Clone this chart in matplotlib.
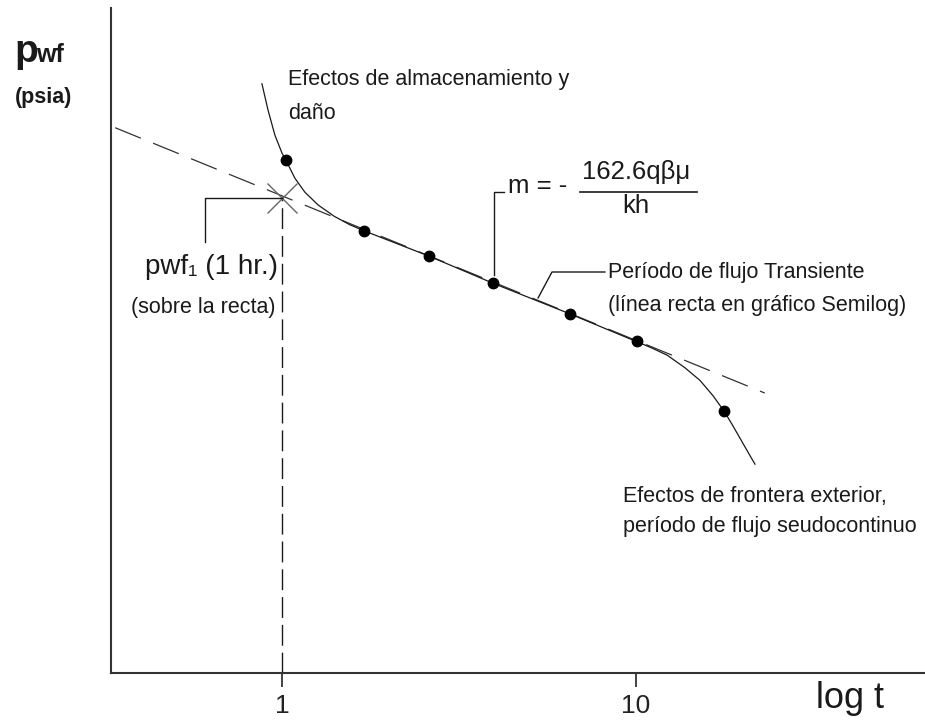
import matplotlib
matplotlib.use("Agg")
import matplotlib.pyplot as plt

plt.rcParams['font.family'] = ['Liberation Sans', 'DejaVu Sans']
plt.rcParams['lines.scale_dashes'] = False

# Measured points of the drawdown test (time in hr, pwf in psia, schematic)
t_points = [1.03, 1.71, 2.60, 3.95, 6.51, 10.07, 17.7]
p_points = [77.1, 66.5, 62.7, 58.6, 54.0, 49.9, 39.4]

t_curve = [0.878, 0.913, 0.955, 1.0, 1.033, 1.088, 1.161, 1.264, 1.403, 1.556, 1.705,
           2.60, 3.95, 6.51, 10.07, 10.95, 12.24, 13.75, 15.16, 16.50, 17.72,
           18.67, 19.67, 20.72, 21.68]
p_curve = [88.6, 84.7, 80.9, 78.2, 76.8, 74.4, 72.3, 70.4, 68.7, 67.4, 66.5,
           62.7, 58.6, 54.0, 49.8, 49.0, 47.8, 45.9, 44.0, 41.7, 39.4,
           37.4, 35.3, 33.2, 31.4]

# Semilog straight line (transient period), ends of the dashed extension
t_line = [0.338, 23.1]
p_line = [82.0, 42.1]

# pwf at 1 hr on the straight line
t_1hr = 1.0
p_1hr = 71.4

tick_vals = [1, 10]
tick_labels = ['1', '10']

fig = plt.figure(figsize=(9.25, 7.22), dpi=100)
ax = fig.add_axes([0.12, 0.0679, 0.88, 0.921])
ax.set_xscale('log')
ax.set_xlim(0.329, 65.5)
ax.set_ylim(0, 100)

ink = '#1a1a1a'

# dashed straight line
ax.plot(t_line, p_line, color='#333333', lw=0.9, dashes=(20, 9.5))
# response curve and points
ax.plot(t_curve, p_curve, color=ink, lw=0.9)
ax.plot(t_points, p_points, 'o', color='black', ms=7.5)

# pwf1 cross and vertical dashed line
ax.plot([t_1hr, t_1hr], [0, p_1hr], color=ink, lw=1.0, dashes=(15, 5))
ax.plot([t_1hr], [p_1hr], 'x', color='#666666', ms=21, mew=1.0)

# spines / ticks
for s in ['top', 'right']:
    ax.spines[s].set_visible(False)
for s in ['left', 'bottom']:
    ax.spines[s].set_color('#333333')
    ax.spines[s].set_linewidth(1.5)
ax.set_yticks([])
ax.set_xticks(tick_vals)
ax.set_xticklabels(tick_labels)
ax.minorticks_off()
ax.tick_params(axis='x', direction='out', length=10, width=1.2, colors='#222222',
               labelsize=19, pad=5)

fs = 15.5
# storage / skin
ax.text(1.04, 89.2, 'Efectos de almacenamiento y', fontsize=fs, color=ink, va='center', ha='left')
ax.text(1.04, 84.2, 'daño', fontsize=fs, color=ink, va='center', ha='left')

# slope leader and formula
ax.plot([3.97, 3.97, 4.24], [59.8, 72.3, 72.3], color=ink, lw=1.0)
ax.text(4.35, 73.2, 'm = -', fontsize=18.5, color=ink, va='center', ha='left')
ax.text(10.0, 75.4, '162.6qβμ', fontsize=18.5, color=ink, va='center', ha='center')
ax.plot([6.95, 14.87], [72.3, 72.3], color=ink, lw=1.2)
ax.text(10.0, 70.3, 'kh', fontsize=18.5, color=ink, va='center', ha='center')

# pwf1 leader
ax.plot([t_1hr, 0.606, 0.606], [p_1hr, p_1hr, 64.8], color=ink, lw=1.0)
ax.text(0.974, 61.0, 'pwf₁ (1 hr.)', fontsize=20, color=ink, va='center', ha='right')
ax.text(0.962, 55.0, '(sobre la recta)', fontsize=fs, color=ink, va='center', ha='right')

# transient leader
ax.plot([5.29, 5.79, 8.17], [56.4, 60.3, 60.3], color=ink, lw=1.0)
ax.text(8.34, 60.3, 'Período de flujo Transiente', fontsize=fs, color=ink, va='center', ha='left')
ax.text(8.34, 55.3, '(línea recta en gráfico Semilog)', fontsize=fs, color=ink, va='center', ha='left')

# boundary effects
ax.text(9.19, 26.5, 'Efectos de frontera exterior,', fontsize=fs, color=ink, va='center', ha='left')
ax.text(9.19, 22.0, 'período de flujo seudocontinuo', fontsize=fs, color=ink, va='center', ha='left')

# axis titles
fig.text(14 / 925, 1 - 62 / 722, 'p', fontsize=28, fontweight='bold', color=ink, va='baseline', ha='left')
fig.text(36 / 925, 1 - 62 / 722, 'wf', fontsize=18, fontweight='bold', color=ink, va='baseline', ha='left')
fig.text(15 / 925, 1 - 97 / 722, '(psia)', fontsize=15.5, fontweight='bold', color=ink, va='center', ha='left')
fig.text(850 / 925, 1 - 699 / 722, 'log t', fontsize=26, color=ink, va='center', ha='center')

fig.savefig('out.png', dpi=100)
